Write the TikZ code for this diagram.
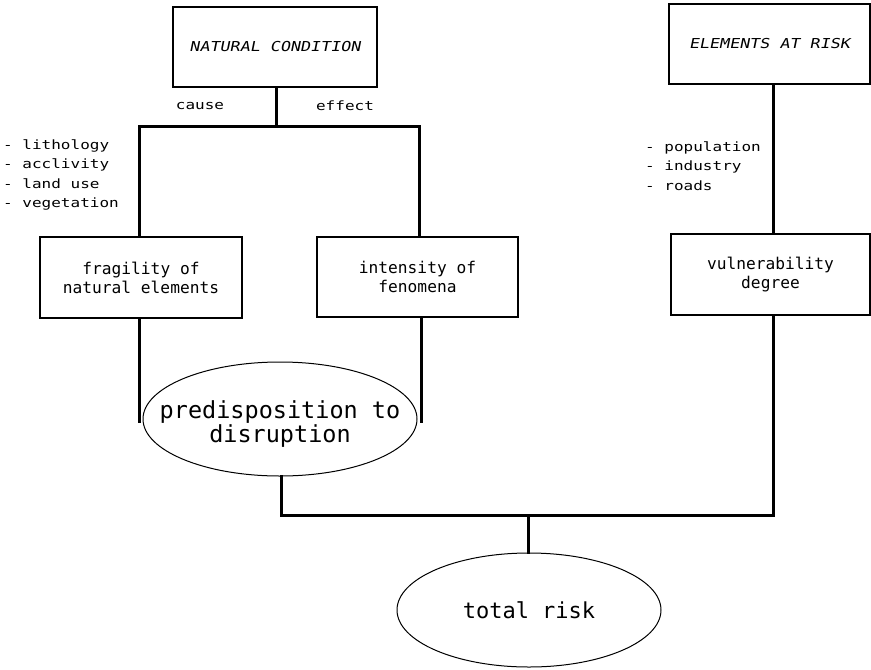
\documentclass[tikz,border=0pt]{standalone}
\usepackage{fontspec}
\usetikzlibrary{shapes.geometric}
\newfontfamily\pfbox{DejaVu Sans Mono}
\newfontfamily\pfsmall[FakeStretch=1.25]{DejaVu Sans Mono}
\newfontfamily\pfhead[FakeStretch=1.22,FakeSlant=0.2]{DejaVu Sans Mono}
\tikzset{
  box/.style={draw, line width=1.4pt, rectangle, minimum width=#1, minimum height=80pt, inner sep=0pt, align=center,
    font=\pfbox\fontsize{16.2}{19}\selectfont},
  headbox/.style={draw, line width=1.4pt, rectangle, minimum width=#1, minimum height=80pt, inner sep=0pt, align=center,
    font=\pfhead\fontsize{13.7}{16}\selectfont},
  oval/.style={draw, line width=1pt, ellipse, inner sep=0pt},
  ovaltext/.style={inner sep=0pt, align=center, font=\pfbox\fontsize{#1}{24}\selectfont},
  conn/.style={line width=3pt, line cap=rect},
  lbl/.style={inner sep=0pt, font=\pfsmall\fontsize{12.8}{19.6}\selectfont, align=left},
}
\begin{document}
\begin{tikzpicture}[x=1pt,y=-1pt]
\useasboundingbox (0,0) rectangle (871,670);
% boxes
\node[headbox=204pt] (nc) at (275,47) {NATURAL CONDITION};
\node[headbox=201pt] (er) at (769.5,44) {ELEMENTS AT RISK};
\node[box=202pt, minimum height=81pt] (frag) at (141,277.5) {fragility of\\natural elements};
\node[box=201pt] (int) at (417.5,277) {intensity of\\fenomena};
\node[box=199pt, minimum height=81pt] (vul) at (770.5,274.5) {vulnerability\\degree};
% ellipses
\node[oval, minimum width=274pt, minimum height=114pt] (pred) at (280,419) {};
\node[ovaltext=23.5] (predtext) at ([yshift=-5pt]pred.center) {predisposition to\\disruption};
\node[oval, minimum width=264pt, minimum height=114pt] (tot) at (529,610) {};
\node[ovaltext=22] (tottext) at (tot.center) {total risk};
% labels
\node[lbl] (cause) at (200,106) {cause};
\node[lbl] (effect) at (345,106) {effect};
\node[lbl, anchor=west] (list1) at (3,175) {- lithology\\- acclivity\\- land use\\- vegetation};
\node[lbl, anchor=west] (list2) at (645,166) {- population\\- industry\\- roads};
% junctions
\coordinate (j1) at (276,126);
\coordinate (jl) at (139,126);
\coordinate (jr) at (419,126);
\coordinate (fl) at (139,421);
\coordinate (fr) at (421,421);
\coordinate (b1) at (281,515);
\coordinate (b2) at (773,515);
\coordinate (bm) at (528,515);
% connectors
\draw[conn] (nc.south -| j1) -- (j1);
\draw[conn] (jl) -- (jr);
\draw[conn] (jl) -- (jl |- frag.north);
\draw[conn] (jr) -- (jr |- int.north);
\draw[conn] (fl |- frag.south) -- (fl);
\draw[conn] (fr |- int.south) -- (fr);
\draw[conn] (er.south -| b2) -- (vul.north -| b2);
\draw[conn] (vul.south -| b2) -- (b2) -- (b1) -- (pred.south -| b1);
\draw[conn] (bm) -- (tot.north -| bm);
\end{tikzpicture}
\end{document}
